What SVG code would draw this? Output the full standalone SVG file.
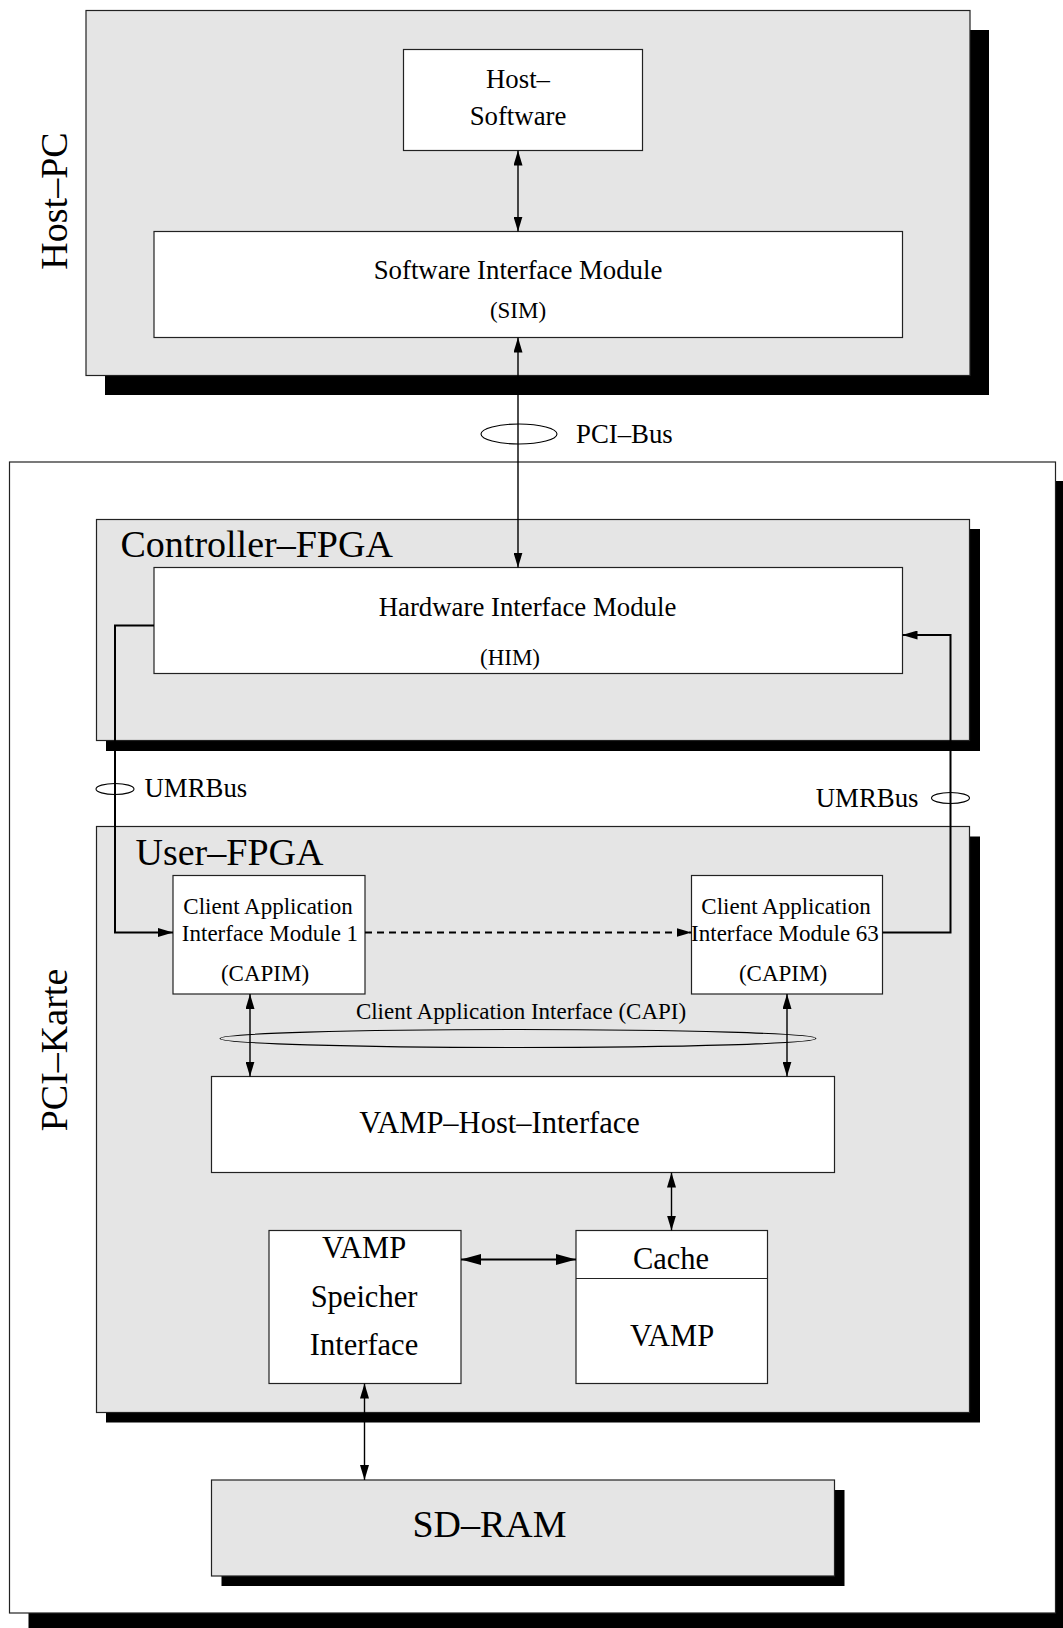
<svg xmlns="http://www.w3.org/2000/svg" width="1063" height="1628" viewBox="0 0 1063 1628">
  <defs>
    <style>
      text { font-family: "Liberation Serif", "Times New Roman", serif; fill: #000; }
      .t38 { font-size: 38px; }
      .t30 { font-size: 30.5px; }
      .t27 { font-size: 26.8px; }
      .t23 { font-size: 23px; }
      .mid { text-anchor: middle; }
      .shadow { fill: #000; stroke: none; }
      .grey { fill: #e5e5e5; stroke: #222; stroke-width: 1.2; }
      .box { fill: #fff; stroke: #222; stroke-width: 1.2; }
      .wire { fill: none; stroke: #000; stroke-width: 1.4; }
      .bus { fill: none; stroke: #000; stroke-width: 2; }
      .ring { fill: none; stroke: #000; stroke-width: 1.1; }
    </style>
    <marker id="ah" viewBox="0 0 15 9" markerWidth="15" markerHeight="9" refX="15" refY="4.5" orient="auto-start-reverse" markerUnits="userSpaceOnUse">
      <path d="M0,0 L15,4.5 L0,9 Z" fill="#000"/>
    </marker>
    <marker id="ahBig" viewBox="0 0 20 11" markerWidth="20" markerHeight="11" refX="20" refY="5.5" orient="auto-start-reverse" markerUnits="userSpaceOnUse">
      <path d="M0,0 L20,5.5 L0,11 Z" fill="#000"/>
    </marker>
  </defs>

  <rect width="1063" height="1628" fill="#fff"/>

  <!-- Host PC -->
  <g id="host-pc">
    <rect class="shadow" x="105" y="30" width="884" height="365"/>
    <rect class="grey" x="86" y="10.5" width="884" height="365"/>
    <text class="t38 mid" transform="translate(66.5,201) rotate(-90)">Host–PC</text>
  </g>

  <g id="host-software">
    <rect class="box" x="403.5" y="49.5" width="239" height="101"/>
    <text class="t27 mid" x="518" y="88">Host–</text>
    <text class="t27 mid" x="518" y="125">Software</text>
  </g>

  <g id="sim">
    <rect class="box" x="154" y="231.5" width="748.5" height="106"/>
    <text class="t27 mid" x="518" y="279">Software Interface Module</text>
    <text class="t23 mid" x="518" y="318">(SIM)</text>
  </g>

  <!-- PCI card -->
  <g id="pci-karte">
    <rect class="shadow" x="28.5" y="481" width="1046" height="1160"/>
    <rect class="box" x="9.5" y="462" width="1046" height="1151"/>
    <text class="t38 mid" transform="translate(66.5,1050) rotate(-90)">PCI–Karte</text>
  </g>

  <g id="controller-fpga">
    <rect class="shadow" x="106" y="529" width="874" height="222"/>
    <rect class="grey" x="96.5" y="519.5" width="873" height="221"/>
    <text class="t38" x="120.5" y="556.5">Controller–FPGA</text>
  </g>

  <g id="him">
    <rect class="box" x="154" y="567.5" width="748.5" height="106"/>
    <text class="t27 mid" x="527.5" y="616">Hardware Interface Module</text>
    <text class="t23 mid" x="510" y="665">(HIM)</text>
  </g>

  <g id="user-fpga">
    <rect class="shadow" x="106" y="836.5" width="874" height="586"/>
    <rect class="grey" x="96.5" y="826.5" width="873" height="586"/>
    <text class="t38" x="135.5" y="865">User–FPGA</text>
  </g>

  <g id="capim-1">
    <rect class="box" x="173" y="875.5" width="192" height="118.5"/>
    <text class="t23 mid" x="268" y="914">Client Application</text>
    <text class="t23 mid" x="270" y="940.5">Interface Module 1</text>
    <text class="t23 mid" x="265" y="980.5">(CAPIM)</text>
  </g>

  <g id="capim-63">
    <rect class="box" x="691.5" y="875.5" width="191" height="118.5"/>
    <text class="t23 mid" x="786" y="914">Client Application</text>
    <text class="t23 mid" x="785" y="940.5">Interface Module 63</text>
    <text class="t23 mid" x="783" y="980.5">(CAPIM)</text>
  </g>

  <g id="vamp-host-interface">
    <rect class="box" x="211.5" y="1076.5" width="623" height="96"/>
    <text class="t30 mid" x="499.5" y="1133">VAMP–Host–Interface</text>
  </g>

  <g id="vamp-speicher-interface">
    <rect class="box" x="269" y="1230.5" width="192" height="153"/>
    <text class="t30 mid" x="364" y="1258">VAMP</text>
    <text class="t30 mid" x="364" y="1307">Speicher</text>
    <text class="t30 mid" x="364" y="1355">Interface</text>
  </g>

  <g id="vamp-cache">
    <rect class="box" x="576" y="1230.5" width="191.5" height="153"/>
    <line x1="576" y1="1278.5" x2="767.5" y2="1278.5" stroke="#222" stroke-width="1.2"/>
    <text class="t30 mid" x="671" y="1269">Cache</text>
    <text class="t30 mid" x="672" y="1345.5">VAMP</text>
  </g>

  <g id="sd-ram">
    <rect class="shadow" x="221.5" y="1490" width="623" height="96"/>
    <rect class="grey" x="211.5" y="1480" width="623" height="96"/>
    <text class="t38 mid" x="489.5" y="1537">SD–RAM</text>
  </g>

  <!-- Connectors -->
  <g id="connectors">
    <line class="wire" x1="518" y1="150.5" x2="518" y2="231.5" marker-start="url(#ah)" marker-end="url(#ah)"/>
    <line class="wire" x1="518" y1="337.5" x2="518" y2="567.5" marker-start="url(#ah)" marker-end="url(#ah)"/>
    <ellipse class="ring" cx="519" cy="434" rx="38" ry="10"/>
    <text class="t27" x="576" y="442.5">PCI–Bus</text>

    <polyline class="bus" points="154,625.5 115,625.5 115,932.5 173,932.5" marker-end="url(#ah)"/>
    <polyline class="bus" points="882.5,932.5 950.5,932.5 950.5,635 902.5,635" marker-end="url(#ah)"/>
    <ellipse class="ring" cx="115" cy="789" rx="19" ry="5.5"/>
    <text class="t27" x="144.5" y="797">UMRBus</text>
    <ellipse class="ring" cx="950.5" cy="798" rx="19" ry="5.5"/>
    <text class="t27" x="918.5" y="807" text-anchor="end">UMRBus</text>

    <line class="bus" x1="365" y1="932.5" x2="691.5" y2="932.5" stroke-dasharray="7,5" marker-end="url(#ah)"/>

    <line class="wire" x1="250" y1="994" x2="250" y2="1076.5" marker-start="url(#ah)" marker-end="url(#ah)"/>
    <line class="wire" x1="787" y1="994" x2="787" y2="1076.5" marker-start="url(#ah)" marker-end="url(#ah)"/>
    <ellipse class="ring" cx="518" cy="1038.5" rx="298" ry="9"/>
    <text class="t23 mid" x="521" y="1019">Client Application Interface (CAPI)</text>

    <line class="wire" x1="671.5" y1="1172.5" x2="671.5" y2="1230.5" marker-start="url(#ah)" marker-end="url(#ah)"/>
    <line class="bus" x1="461" y1="1259.5" x2="576" y2="1259.5" marker-start="url(#ahBig)" marker-end="url(#ahBig)"/>
    <line class="wire" x1="364.5" y1="1383.5" x2="364.5" y2="1480" marker-start="url(#ah)" marker-end="url(#ah)"/>
  </g>
</svg>
